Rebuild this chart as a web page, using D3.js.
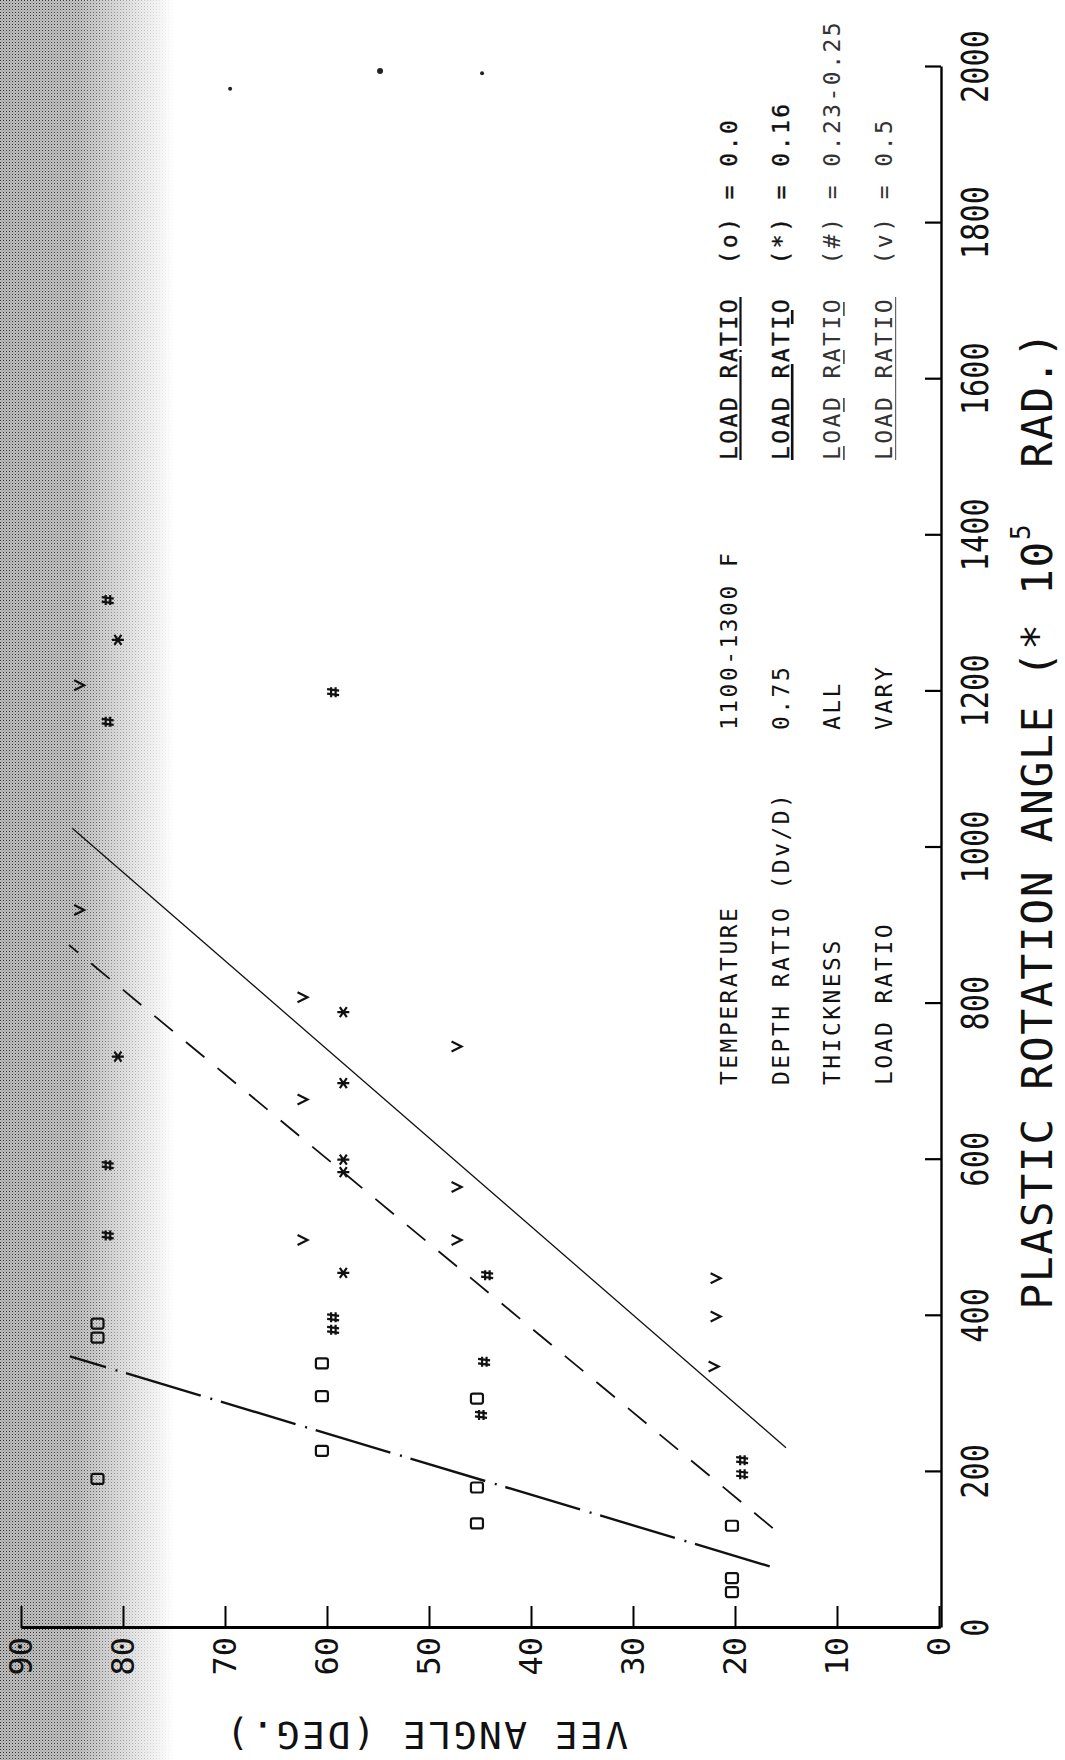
<!DOCTYPE html>
<html>
<head>
<meta charset="utf-8">
<script src="https://cdn.jsdelivr.net/npm/d3@7"></script>
<style>
  body { margin: 0; background: #fff; }
  svg text { font-family: "DejaVu Sans Mono", "Liberation Mono", monospace; fill: #111; white-space: pre; }
</style>
</head>
<body>
<div id="chart"></div>
<script>
// Vee angle against plastic rotation angle. The page is a scan turned on its side,
// so the whole chart is drawn normally and then rotated -90 degrees.

// axis ticks
const rotationTicks = [0, 200, 400, 600, 800, 1000, 1200, 1400, 1600, 1800, 2000];
const veeTicks = [0, 10, 20, 30, 40, 50, 60, 70, 80, 90];

// measured points: [plastic rotation angle, vee angle]
const loadRatio00 = [[390, 82.5], [372, 82.5], [191, 82.5], [339, 60.5], [297, 60.5], [227, 60.5],
  [294, 45.3], [180, 45.3], [134, 45.3], [131, 20.3], [64, 20.3], [46, 20.3]];
const loadRatio016 = [[1266, 80.5], [732, 80.5], [789, 58.4], [698, 58.4], [600, 58.4], [584, 58.4], [455, 58.4]];
const loadRatio023 = [[1317, 81.5], [1161, 81.5], [593, 81.5], [503, 81.5], [1199, 59.4], [398, 59.4], [382, 59.4],
  [452, 44.3], [341, 44.6], [273, 44.9], [215, 19.3], [197, 19.3]];
const loadRatio05 = [[1208, 84.3], [920, 84.3], [808, 62.4], [677, 62.4], [497, 62.4], [745, 47.3], [565, 47.3],
  [497, 47.3], [448, 21.9], [399, 21.9], [335, 22.1]];

// fitted lines, two end points each
const lineDashDot = [[79, 16.6], [348, 85.2]];
const lineDashed = [[128, 16.3], [875, 85.3]];
const lineSolid = [[231, 15.0], [1025, 85.0]];

// text blocks
const conditionLabels = ["TEMPERATURE", "DEPTH RATIO (Dv/D)", "THICKNESS", "LOAD RATIO"];
const conditionValues = ["1100-1300 F", "0.75", "ALL", "VARY"];
const legendLabels = ["LOAD RATIO  (o) = 0.0", "LOAD RATIO  (*) = 0.16", "LOAD RATIO  (#) = 0.23-0.25", "LOAD RATIO  (v) = 0.5"];

// dust specks on the scan, [rotation, vee]
const specks = [[1972, 69.5], [1995, 54.8], [1992, 44.8]];

const W = 1065, H = 1760;

const svg = d3.select("#chart").append("svg")
    .attr("width", W)
    .attr("height", H);

svg.append("rect").attr("width", W).attr("height", H).attr("fill", "#fff");

// gutter shading along the left edge of the scan
const defs = svg.append("defs");
const pat = defs.append("pattern")
    .attr("id", "stipple")
    .attr("width", 3).attr("height", 3)
    .attr("patternUnits", "userSpaceOnUse");
pat.append("rect").attr("width", 3).attr("height", 3).attr("fill", "#bcbcbc");
pat.append("rect").attr("width", 1).attr("height", 1).attr("fill", "#303030");
pat.append("rect").attr("x", 1.5).attr("y", 1.5).attr("width", 1).attr("height", 1).attr("fill", "#858585");

const grad = defs.append("linearGradient").attr("id", "fade");
grad.append("stop").attr("offset", "0").attr("stop-color", "#fff").attr("stop-opacity", 1);
grad.append("stop").attr("offset", "0.45").attr("stop-color", "#fff").attr("stop-opacity", 0.9);
grad.append("stop").attr("offset", "0.75").attr("stop-color", "#fff").attr("stop-opacity", 0.4);
grad.append("stop").attr("offset", "1").attr("stop-color", "#fff").attr("stop-opacity", 0);

defs.append("mask").attr("id", "fadeMask")
    .append("rect").attr("width", 175).attr("height", H).attr("fill", "url(#fade)");

svg.append("rect")
    .attr("width", 175).attr("height", H)
    .attr("fill", "url(#stipple)")
    .attr("mask", "url(#fadeMask)");

// the chart itself, in its upright frame (1760 wide, 1065 tall)
const g = svg.append("g").attr("transform", `translate(0,${H}) rotate(-90)`);

const x = d3.scaleLinear().domain([0, 2000]).range([132, 1693]);
const y = d3.scaleLinear().domain([0, 90]).range([939, 21]);

// x axis (plastic rotation angle)
const xAxis = g.append("g")
    .attr("transform", "translate(0,941)")
    .call(d3.axisBottom(x).tickValues(rotationTicks).tickSize(-16).tickSizeOuter(0).tickPadding(20).tickFormat(d3.format("d")));
xAxis.attr("font-size", 38).attr("font-family", null);
xAxis.select(".domain").attr("stroke-width", 2.4);
xAxis.selectAll(".tick line").attr("stroke-width", 2.2);
xAxis.selectAll(".tick text").attr("transform", "scale(0.8,1)");

// y axis (vee angle)
const yAxis = g.append("g")
    .attr("transform", "translate(132,0)")
    .call(d3.axisLeft(y).tickValues(veeTicks).tickSize(-22).tickSizeOuter(0).tickPadding(9));
yAxis.attr("font-size", 32).attr("font-family", null);
yAxis.select(".domain").attr("stroke-width", 2.8);
yAxis.selectAll(".tick line").attr("stroke-width", 2);

// axis titles
const xTitle = g.append("text")
    .attr("x", 940)
    .attr("y", 1052)
    .attr("text-anchor", "middle")
    .attr("font-size", 43)
    .attr("letter-spacing", 1.6);
xTitle.append("tspan").text("PLASTIC ROTATION ANGLE (* 10");
xTitle.append("tspan").attr("dy", -22).attr("font-size", 26).text("5");
xTitle.append("tspan").attr("dy", 22).text("  RAD.)");

g.append("text")
    .attr("transform", "translate(38,426) rotate(-90)")
    .attr("text-anchor", "middle")
    .attr("font-size", 38)
    .attr("letter-spacing", 2.4)
    .text("VEE ANGLE (DEG.)");

// fitted lines
const line = d3.line().x(d => x(d[0])).y(d => y(d[1]));

g.append("path").datum(lineDashDot)
    .attr("d", line)
    .attr("fill", "none")
    .attr("stroke", "#111")
    .attr("stroke-width", 2.4)
    .attr("stroke-dasharray", "78,9,2,10");

g.append("path").datum(lineDashed)
    .attr("d", line)
    .attr("fill", "none")
    .attr("stroke", "#111")
    .attr("stroke-width", 1.8)
    .attr("stroke-dasharray", "24,17");

g.append("path").datum(lineSolid)
    .attr("d", line)
    .attr("fill", "none")
    .attr("stroke", "#111")
    .attr("stroke-width", 1.3);

// plotter marker glyphs
const glyphs = {
    o: "M-5,-4Q-5,-6 -3,-6H3Q5,-6 5,-4V4Q5,6 3,6H-3Q-5,6 -5,4Z",
    star: "M0,-6V6M-5,-3.5L5,3.5M-5,3.5L5,-3.5",
    hash: "M-1.5,-6L-3,6M3,-6L1.5,6M-5,-2H5M-5,2.5H5",
    v: "M-5,-5L0,5L5,-5"
};

function drawMarkers(data, glyph, cls) {
    g.selectAll("." + cls)
        .data(data)
        .join("path")
        .attr("class", cls)
        .attr("transform", d => `translate(${x(d[0])},${y(d[1])})`)
        .attr("d", glyphs[glyph])
        .attr("fill", "none")
        .attr("stroke", "#111")
        .attr("stroke-width", 2.2);
}

drawMarkers(loadRatio00, "o", "m-o");
drawMarkers(loadRatio016, "star", "m-star");
drawMarkers(loadRatio023, "hash", "m-hash");
drawMarkers(loadRatio05, "v", "m-v");

// test conditions block
const rowY = i => 737 + i * 51.7;

g.selectAll(".cond-label")
    .data(conditionLabels)
    .join("text")
    .attr("class", "cond-label")
    .attr("x", 675)
    .attr("y", (d, i) => rowY(i))
    .attr("font-size", 23)
    .attr("letter-spacing", 2.45)
    .text(d => d);

g.selectAll(".cond-value")
    .data(conditionValues)
    .join("text")
    .attr("class", "cond-value")
    .attr("x", 1030)
    .attr("y", (d, i) => rowY(i))
    .attr("font-size", 23)
    .attr("letter-spacing", 2.45)
    .text(d => d);

// legend, each row underlined with its line style
const underline = [
    { dash: "104,4,2,4", width: 2.2, color: "#111" },
    { dash: "96,40,14,40", width: 2.6, color: "#111" },
    { dash: "14,34", width: 1.6, color: "#444" },
    { dash: null, width: 1.2, color: "#666" }
];

g.selectAll(".legend")
    .data(legendLabels)
    .join("text")
    .attr("class", "legend")
    .attr("x", 1300)
    .attr("y", (d, i) => rowY(i))
    .attr("font-size", 23)
    .attr("letter-spacing", 2.45)
    .attr("stroke", (d, i) => i < 2 ? "#111" : "none")
    .attr("stroke-width", 0.4)
    .style("fill", (d, i) => i < 2 ? "#111" : "#333")
    .text(d => d);

g.selectAll(".legend-line")
    .data(underline)
    .join("line")
    .attr("class", "legend-line")
    .attr("x1", 1300)
    .attr("x2", 1463)
    .attr("y1", (d, i) => rowY(i) + 3.5)
    .attr("y2", (d, i) => rowY(i) + 3.5)
    .attr("stroke", d => d.color)
    .attr("stroke-width", d => d.width)
    .attr("stroke-dasharray", d => d.dash);

// dust on the scan
g.selectAll(".speck")
    .data(specks)
    .join("circle")
    .attr("class", "speck")
    .attr("cx", d => x(d[0]))
    .attr("cy", d => y(d[1]))
    .attr("r", (d, i) => i === 1 ? 3 : 2)
    .attr("fill", "#222");
</script>
</body>
</html>
